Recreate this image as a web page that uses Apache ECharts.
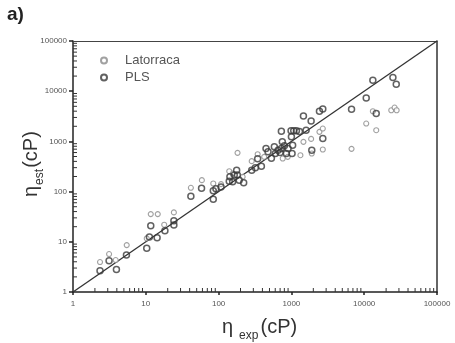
<!DOCTYPE html>
<html>
<head>
<meta charset="utf-8">
<script src="https://cdn.jsdelivr.net/npm/echarts@6/dist/echarts.min.js"></script>
<style>
  html, body { margin: 0; padding: 0; background: #fff; }
  #chart { width: 455px; height: 343px; }
</style>
</head>
<body>
<div id="chart"></div>
<script>
'use strict';

// viscosity pairs [eta_exp, eta_est] in cP
var latorraca = [
  [2.35, 3.95], [3.13, 5.7], [3.86, 4.33], [5.47, 8.6], [10.3, 11.7],
  [11.7, 35.6], [14.6, 35.6], [17.9, 21.9], [24.3, 38.5], [41.6, 119],
  [58.9, 169], [84.5, 145], [108, 141], [140, 255], [182, 591],
  [156, 229], [214, 197], [285, 404], [344, 556], [423, 492],
  [760, 456], [891, 492], [1330, 531], [1463, 979], [1866, 1122],
  [1905, 574], [2428, 1548], [2700, 1803], [2700, 689], [6700, 710],
  [10660, 2266], [13150, 3990], [14630, 1671], [23540, 4178],
  [26150, 4720], [27900, 4178]
];
var pls = [
  [2.35, 2.66], [3.13, 4.2], [3.95, 2.82], [5.42, 5.45], [10.3, 7.4],
  [11.7, 20.9], [11.2, 12.4], [14.3, 12.0], [18.3, 16.6], [24.3, 21.5],
  [24.3, 26.3], [41.6, 81], [58.3, 117], [84.5, 70.8], [84.5, 104],
  [91.9, 114], [108, 123], [140, 161], [143, 197], [156, 157],
  [164, 213], [181, 213], [177, 267], [192, 169], [221, 150],
  [285, 267], [320, 297], [344, 449], [387, 321], [448, 721],
  [477, 619], [583, 778], [531, 463], [602, 574], [656, 668],
  [728, 721], [801, 815], [854, 574], [900, 720], [728, 1596],
  [750, 979], [700, 600], [989, 1621], [1076, 1621], [1172, 1621],
  [1289, 1572], [1000, 1231], [1040, 840], [1021, 574], [1463, 3220],
  [1592, 1671], [1866, 2561], [1905, 668], [2428, 3990], [2700, 4437],
  [2700, 1140], [6700, 4373], [10660, 7345], [13150, 16500],
  [14630, 3582], [24800, 18660], [27560, 13740]
];
var identity = [[1, 1], [100000, 100000]];
var decades = [1, 10, 100, 1000, 10000, 100000];

// minor tick positions 2..9 x 10^k
var minorTicks = [];
for (var d = 0; d < decades.length - 1; d++) {
  for (var m = 2; m <= 9; m++) minorTicks.push(m * decades[d]);
}

var chart = echarts.init(document.getElementById('chart'));

function minorTickSeries(axis) {
  return {
    type: 'custom',
    silent: true,
    clip: false,
    z: 5,
    data: minorTicks.map(function (v) { return [v, v]; }),
    renderItem: function (params, api) {
      var v = api.value(0);
      var p, shape;
      if (axis === 'x') {
        p = api.coord([v, 1]);
        shape = { x1: p[0], y1: p[1], x2: p[0], y2: p[1] - 4 };
      } else {
        p = api.coord([1, v]);
        shape = { x1: p[0], y1: p[1], x2: p[0] + 4, y2: p[1] };
      }
      return {
        type: 'line',
        shape: shape,
        style: { stroke: '#333', lineWidth: 1 }
      };
    }
  };
}

var tickLabel = {
  color: '#555', fontSize: 8, fontFamily: 'Liberation Sans',
  formatter: function (v) { return String(v); }
};

chart.setOption({
  animation: false,
  backgroundColor: '#fff',
  grid: { left: 73, right: 18, top: 41, bottom: 51 },
  xAxis: [{
    type: 'log', min: 1, max: 100000, logBase: 10,
    axisLine: { show: true, onZero: false, lineStyle: { color: '#222', width: 1.5 } },
    axisTick: { show: true, inside: false, length: 3, lineStyle: { color: '#222', width: 1.5 } },
    axisLabel: Object.assign({ margin: 8 }, tickLabel),
    splitLine: { show: false }
  }, {
    type: 'log', min: 1, max: 100000, position: 'top',
    axisLine: { show: true, lineStyle: { color: '#444', width: 1 } },
    axisTick: { show: false }, axisLabel: { show: false }, splitLine: { show: false }
  }],
  yAxis: [{
    type: 'log', min: 1, max: 100000, logBase: 10,
    axisLine: { show: true, onZero: false, lineStyle: { color: '#222', width: 1.5 } },
    axisTick: { show: true, inside: false, length: 4, lineStyle: { color: '#222', width: 1.5 } },
    axisLabel: Object.assign({ margin: 6 }, tickLabel),
    splitLine: { show: false }
  }, {
    type: 'log', min: 1, max: 100000, position: 'right',
    axisLine: { show: true, lineStyle: { color: '#333', width: 1.5 } },
    axisTick: { show: false }, axisLabel: { show: false }, splitLine: { show: false }
  }],
  legend: {
    left: 95, top: 49, orient: 'vertical', itemGap: 4,
    itemWidth: 6, itemHeight: 6,
    textStyle: { color: '#555', fontSize: 13, fontFamily: 'Liberation Sans', padding: [0, 0, 0, 13] },
    data: ['Latorraca', 'PLS']
  },
  graphic: [{
    type: 'text', left: 7, top: 5,
    style: { text: 'a)', font: 'bold 19px Liberation Sans', fill: '#222' }
  }, {
    type: 'text', x: 222, y: 312,
    style: {
      text: '{a|η}{b|exp}{a|(cP)}',
      rich: {
        a: { fontSize: 20, fontFamily: 'Liberation Sans', fill: '#333', lineHeight: 30, verticalAlign: 'middle' },
        b: { fontSize: 12, fontFamily: 'Liberation Sans', fill: '#333', lineHeight: 30, verticalAlign: 'bottom', padding: [0, 2, 0, 6] }
      }
    }
  }, {
    type: 'text', x: 16, y: 197, rotation: Math.PI / 2,
    style: {
      text: '{a|η}{b|est}{a|(cP)}',
      rich: {
        a: { fontSize: 20, fontFamily: 'Liberation Sans', fill: '#333', lineHeight: 30, verticalAlign: 'middle' },
        b: { fontSize: 12, fontFamily: 'Liberation Sans', fill: '#333', lineHeight: 30, verticalAlign: 'bottom', padding: [0, 1, 0, 1] }
      }
    }
  }],
  series: [
    {
      name: 'identity', type: 'line', data: identity,
      symbol: 'none', silent: true, z: 1,
      lineStyle: { color: '#333', width: 1.3 }
    },
    {
      name: 'Latorraca', type: 'scatter', data: latorraca,
      symbol: 'circle', symbolSize: 5, z: 2,
      itemStyle: { color: '#fff', borderColor: '#8a8a8a', borderWidth: 1.1 }
    },
    {
      name: 'PLS', type: 'scatter', data: pls,
      symbol: 'circle', symbolSize: 6, z: 3,
      itemStyle: { color: 'rgba(255,255,255,0)', borderColor: '#3a3a3a', borderWidth: 1.5 }
    },
    minorTickSeries('x'),
    minorTickSeries('y')
  ]
});
</script>
</body>
</html>
